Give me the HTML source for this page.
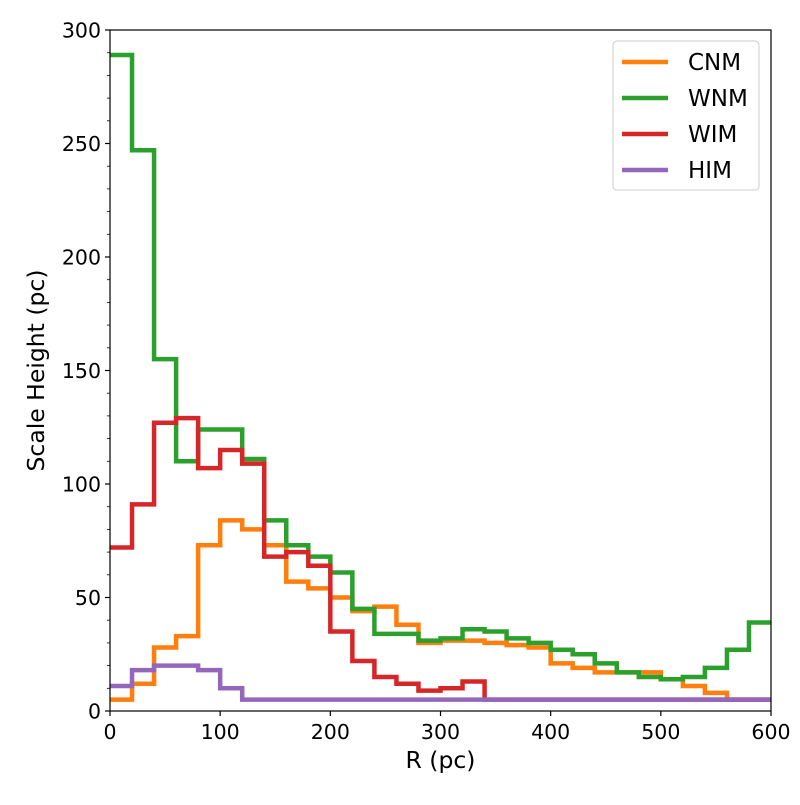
<!DOCTYPE html>
<html><head><meta charset="utf-8"><style>
body{margin:0;background:#fff;}
svg text{font-family:"DejaVu Sans","Liberation Sans",sans-serif;fill:#000;}
</style></head><body>
<svg id="chart" width="800" height="800">
<rect width="800" height="800" fill="#fff"/>
<g id="marks"></g>
<g id="axes"></g>
</svg>
<script>
const binEdgesStart = 0, binWidth = 20;
const seriesNames = ["CNM","WNM","WIM","HIM"];
const cnm = [5,12,28,33,73,84,80,73,57,54,50,44,46,38,30,31,31,30,29,28,21,19,17,17,17,14,11,8,5,5];
const wnm = [289,247,155,110,124,124,111,84,73,68,61,45,34,34,31,32,36,35,32,30,27,25,21,17,15,14,15,19,27,39];
const wim = [72,91,127,129,107,115,109,68,70,64,35,22,15,12,9,10,13,5,5,5,5,5,5,5,5,5,5,5,5,5];
const him = [11,18,20,20,18,10,5,5,5,5,5,5,5,5,5,5,5,5,5,5,5,5,5,5,5,5,5,5,5,5];
const xTicks = [0,100,200,300,400,500,600];
const yTicks = [0,50,100,150,200,250,300];
const colors = ["#ff7f0e","#2ca02c","#d62728","#9467bd"];
const allSeries = [cnm,wnm,wim,him];

const L=110,R=771,T=30,B=711;
const X = v => L + (v-0)/(600-0)*(R-L);
const Y = v => B - (v-0)/(300-0)*(B-T);
const NS="http://www.w3.org/2000/svg";
const marks=document.getElementById('marks'), axes=document.getElementById('axes');
function mk(tag,attrs,parent){const e=document.createElementNS(NS,tag);for(const k in attrs)e.setAttribute(k,attrs[k]);parent.appendChild(e);return e;}

const defs=mk('defs',{},marks);
const cp=mk('clipPath',{id:'clip'},defs);
mk('rect',{x:L,y:T,width:R-L,height:B-T},cp);

allSeries.forEach((s,i)=>{
  let d='';
  s.forEach((v,j)=>{
    const x0=X(binEdgesStart+j*binWidth), x1=X(binEdgesStart+(j+1)*binWidth);
    d += (j===0?'M':'L')+x0+','+Y(v)+' L'+x1+','+Y(v)+' ';
  });
  const p=mk('path',{d:d,fill:'none',stroke:colors[i],'stroke-width':4.5,'stroke-linejoin':'miter','clip-path':'url(#clip)'},marks);
  
  
});

const fr=mk('rect',{x:L,y:T,width:R-L,height:B-T,fill:'none',stroke:'#000','stroke-width':1.2},axes);



xTicks.forEach(t=>{
  mk('line',{x1:X(t),x2:X(t),y1:B,y2:B+5,stroke:'#000','stroke-width':1.2},axes);
  const tx=mk('text',{x:X(t),y:B+28,'text-anchor':'middle','font-size':20.5},axes);
  tx.textContent=t;
  
  
});
yTicks.forEach(t=>{
  mk('line',{x1:L-5,x2:L,y1:Y(t),y2:Y(t),stroke:'#000','stroke-width':1.2},axes);
  const tx=mk('text',{x:L-9,y:Y(t)+7.5,'text-anchor':'end','font-size':20.5},axes);
  tx.textContent=t;
  
  
});
for(let t=0;t<=300;t+=10){ if(t%50) mk('line',{x1:L-3,x2:L,y1:Y(t),y2:Y(t),stroke:'#000','stroke-width':0.8},axes); }

const xl=mk('text',{x:(L+R)/2,y:768,'text-anchor':'middle','font-size':23.5},axes);
xl.textContent='R (pc)';


const yl=mk('text',{x:0,y:0,'text-anchor':'middle','font-size':23.5,transform:`translate(44,${(T+B)/2}) rotate(-90)`},axes);
yl.textContent='Scale Height (pc)';



const lg=mk('g',{},axes);


mk('rect',{x:613,y:41,width:146,height:149,rx:4,fill:'#fff',stroke:'#ccc','stroke-width':1},lg);
seriesNames.forEach((n,i)=>{
  const y=62+i*36;
  const ln=mk('line',{x1:622,x2:668,y1:y,y2:y,stroke:colors[i],'stroke-width':4.5},lg);
  
  
  const t=mk('text',{x:688,y:y+8,'font-size':23},lg);
  t.textContent=n;
  
  
});
</script>
</body></html>
